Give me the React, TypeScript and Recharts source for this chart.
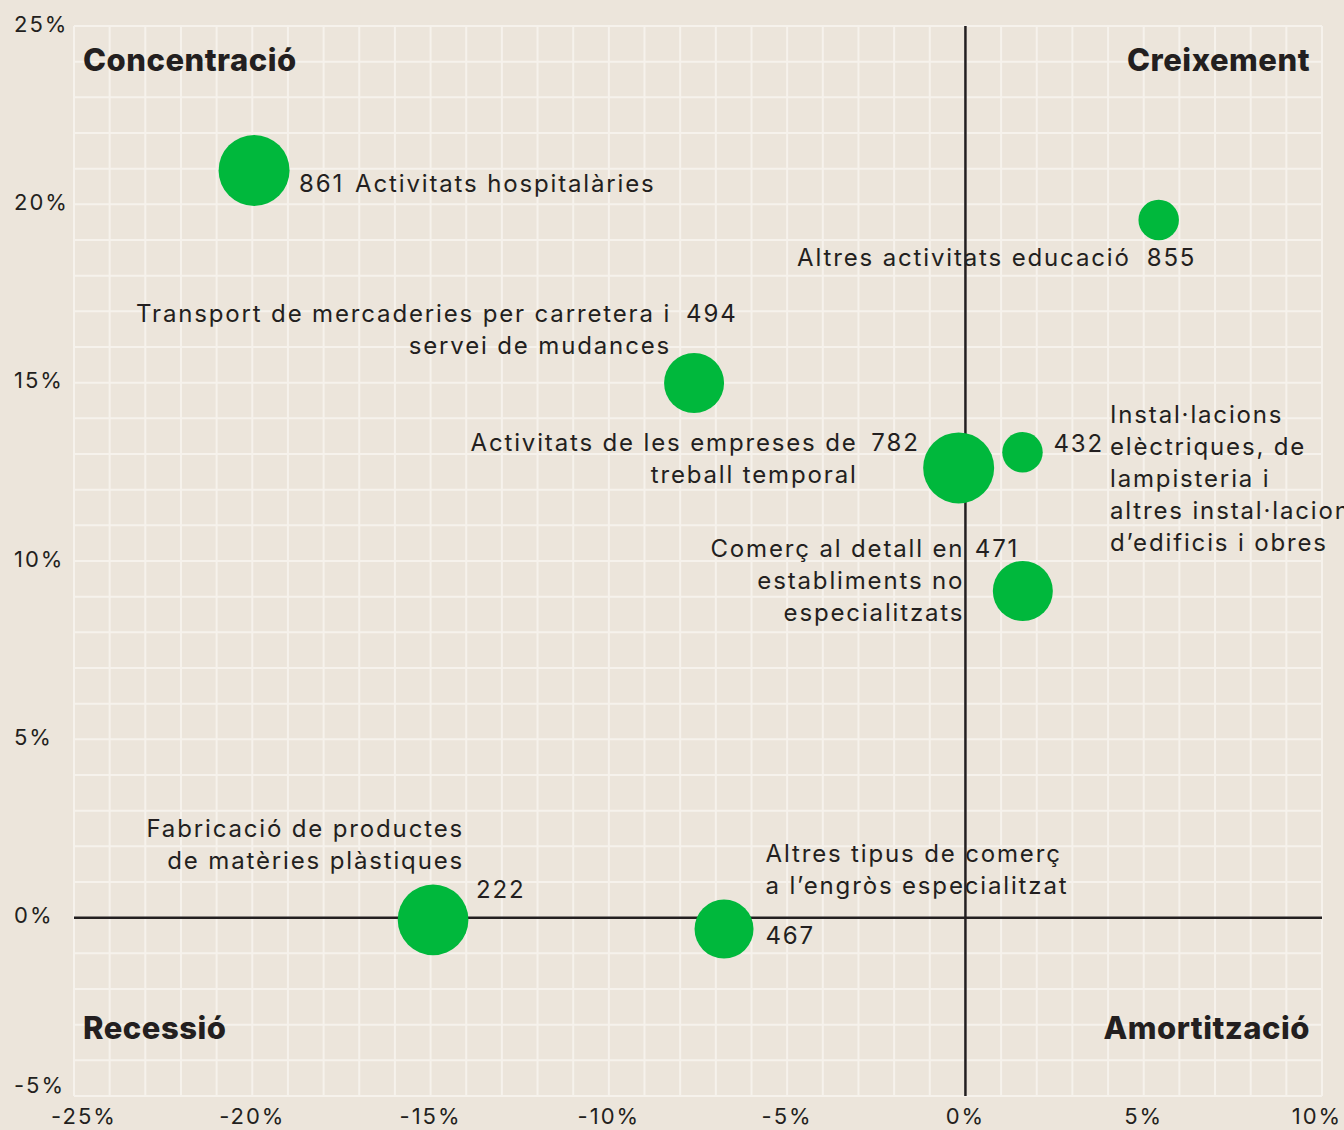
import { ScatterChart, Scatter, XAxis, YAxis, ZAxis, ReferenceLine } from "recharts";

// codi CNAE i nom de cada activitat
const codis = ["861", "855", "494", "782", "432", "471", "222", "467"];
const activitats = [
  ["Activitats hospitalàries"],
  ["Altres activitats educació"],
  ["Transport de mercaderies per carretera i", "servei de mudances"],
  ["Activitats de les empreses de", "treball temporal"],
  ["Instal·lacions", "elèctriques, de", "lampisteria i", "altres instal·lacions", "d’edificis i obres"],
  ["Comerç al detall en", "establiments no", "especialitzats"],
  ["Fabricació de productes", "de matèries plàstiques"],
  ["Altres tipus de comerç", "a l’engròs especialitzat"],
];
// variacions (%) llegides del gràfic
const varX = [-19.95, 5.42, -7.61, -0.19, 1.6, 1.61, -14.93, -6.77];
const varY = [20.95, 19.56, 14.99, 12.61, 13.05, 9.16, -0.06, -0.32];
// pes relatiu de cada activitat (mida de la bombolla)
const pes = [1260, 410, 900, 1260, 410, 900, 1250, 870];

const xTicks = [-25, -20, -15, -10, -5, 0, 5, 10];
const yTicks = [-5, 0, 5, 10, 15, 20, 25];
const gridX: number[] = [];
for (let v = -25; v <= 10; v++) gridX.push(v);
const gridY: number[] = [];
for (let v = -5; v <= 25; v++) gridY.push(v);

const quadrants = [
  { nom: "Concentració", x: -25, y: 25 },
  { nom: "Creixement", x: 10, y: 25 },
  { nom: "Recessió", x: -25, y: -5 },
  { nom: "Amortització", x: 10, y: -5 },
];

// on va cada etiqueta respecte del centre de la bombolla
const etiquetes = [
  { anchor: "start", dx: 101, dy: 13, codeAnchor: "start", codeDx: 45, codeDy: 13 },
  { anchor: "end", dx: -28, dy: 38, codeAnchor: "start", codeDx: -12, codeDy: 38 },
  { anchor: "end", dx: -23, dy: -69, codeAnchor: "start", codeDx: -8, codeDy: -69 },
  { anchor: "end", dx: -101, dy: -25, codeAnchor: "end", codeDx: -39, codeDy: -25 },
  { anchor: "start", dx: 87.5, dy: -38, codeAnchor: "start", codeDx: 31, codeDy: -9 },
  { anchor: "end", dx: -58.5, dy: -42, codeAnchor: "start", codeDx: -48, codeDy: -42 },
  { anchor: "end", dx: 31, dy: -91, codeAnchor: "start", codeDx: 43, codeDy: -30 },
  { anchor: "start", dx: 41.5, dy: -75, codeAnchor: "start", codeDx: 41.5, codeDy: 7 },
];

const data = codis.map((codi, i) => ({ x: varX[i], y: varY[i], z: pes[i], codi, nom: activitats[i], i }));
const quadData = quadrants.map((q) => ({ ...q }));

const FONT = "Inter, 'Open Sans', sans-serif";
const INK = "#231f20";
const GRID = "#f6f2ec";
const LINE_H = 32;

const LabelShape = (props: any) => {
  const { cx, cy, payload } = props;
  const l = etiquetes[payload.i];
  return (
    <g fontFamily={FONT} fontSize={24} letterSpacing={1.85} fill={INK}>
      <text x={cx + l.codeDx} y={cy + l.codeDy} dy="0.35em" textAnchor={l.codeAnchor}>
        {payload.codi}
      </text>
      {payload.nom.map((line: string, k: number) => (
        <text key={k} x={cx + l.dx} y={cy + l.dy + k * LINE_H} dy="0.35em" textAnchor={l.anchor}>
          {line}
        </text>
      ))}
    </g>
  );
};

const QuadShape = (props: any) => {
  const { cx, cy, payload } = props;
  const left = payload.x < 0;
  const top = payload.y > 0;
  return (
    <text
      x={left ? cx + 9 : cx - 12}
      y={top ? cy + 34 : cy - 68}
      dy="0.35em"
      textAnchor={left ? "start" : "end"}
      fontFamily={FONT}
      fontSize={31}
      fontWeight={800}
      letterSpacing={0.5}
      fill={INK}
    >
      {payload.nom}
    </text>
  );
};

const YTick = ({ y, payload }: any) => (
  <text
    x={14}
    y={y + (payload.value === -5 ? -11 : -2)}
    dy="0.35em"
    fontFamily={FONT}
    fontSize={22}
    letterSpacing={2}
    fill={INK}
  >
    {`${payload.value}%`}
  </text>
);

const XTick = ({ x, y, payload }: any) => {
  const shift = payload.value === -25 ? 10 : payload.value === 10 ? -5 : 0;
  return (
    <text
      x={x + shift}
      y={y + 12}
      dy="0.35em"
      textAnchor="middle"
      fontFamily={FONT}
      fontSize={22}
      letterSpacing={2}
      fill={INK}
    >
      {`${payload.value}%`}
    </text>
  );
};

export default function App() {
  return (
    <div style={{ position: "absolute", left: 0, top: 0, width: 1344, height: 1130, background: "#ece5db", overflow: "hidden" }}>
      <ScatterChart width={1344} height={1130} margin={{ top: 26, right: 22, bottom: 0, left: 0 }}>
        <XAxis
          type="number"
          dataKey="x"
          domain={[-25, 10]}
          ticks={xTicks}
          axisLine={false}
          tickLine={false}
          height={34}
          tick={<XTick />}
        />
        <YAxis
          type="number"
          dataKey="y"
          domain={[-5, 25]}
          ticks={yTicks}
          axisLine={false}
          tickLine={false}
          width={74}
          tick={<YTick />}
        />
        <ZAxis type="number" dataKey="z" domain={[0, 1300]} range={[0, 1300 * Math.PI]} />
        {gridX.map((v) => (
          <ReferenceLine key={`gx${v}`} x={v} stroke={GRID} strokeWidth={2} />
        ))}
        {gridY.map((v) => (
          <ReferenceLine key={`gy${v}`} y={v} stroke={GRID} strokeWidth={2} />
        ))}
        <Scatter data={quadData} shape={<QuadShape />} isAnimationActive={false} />
        <Scatter data={data} shape={<LabelShape />} isAnimationActive={false} />
        <ReferenceLine x={0} stroke={INK} strokeWidth={2.5} />
        <ReferenceLine y={0} stroke={INK} strokeWidth={2.5} />
        <Scatter data={data} fill="#00b83c" isAnimationActive={false} />
      </ScatterChart>
    </div>
  );
}
